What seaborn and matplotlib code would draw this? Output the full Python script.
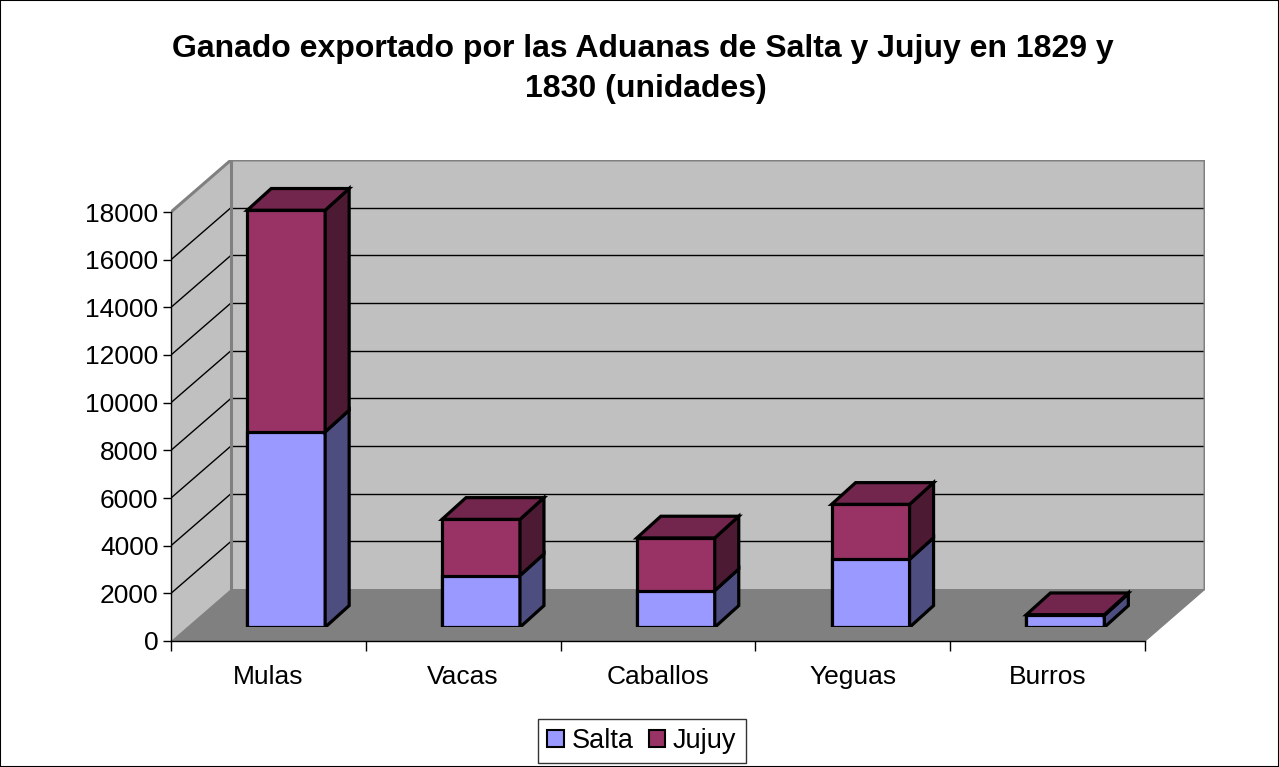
import numpy as np
import pandas as pd
import matplotlib
matplotlib.use("Agg")
import matplotlib.pyplot as plt
from matplotlib.patches import Polygon, Patch, Rectangle
import seaborn as sns

# ---------------- data ----------------
categorias = ["Mulas", "Vacas", "Caballos", "Yeguas", "Burros"]
salta = [8200, 2170, 1540, 2850, 500]
jujuy = [9300, 2360, 2210, 2310, 30]
series = ["Salta", "Jujuy"]
yticks = [0, 2000, 4000, 6000, 8000, 10000, 12000, 14000, 16000, 18000]
titulo = ["Ganado exportado por las Aduanas de Salta y Jujuy en 1829 y",
          "1830 (unidades)"]

# ---------------- style ----------------
sns.set_theme(style="white")
plt.rcParams['font.family'] = ['Liberation Sans', 'DejaVu Sans']

c_salta = '#9999FF'
c_jujuy = '#993366'
c_salta_side = '#4D4D80'
c_jujuy_side = '#4D1A33'
c_jujuy_top = '#73264D'
c_salta_top = '#7373BF'
wall_c = '#C0C0C0'
floor_c = '#808080'

W, H = 1279, 767
fig = plt.figure(figsize=(W / 100, H / 100), dpi=100)
fig.patch.set_facecolor('white')

# geometry (pixels)
x0, y0 = 171, 641
cat_px = 194.8
ymax = yticks[-1]
val_px = 429 / ymax
back_dx, back_dy = 60, 52
bar_off_x, bar_off_y = 17.8, 13.7
bar_dx_px, bar_dy_px = 24, 21.7

n = len(categorias)
xr = n - 0.5
dxw = back_dx / cat_px
dyw = back_dy / val_px
xlim = (-0.5, xr + dxw)
ylim = (0, ymax + dyw)
aw = (xlim[1] - xlim[0]) * cat_px
ah = (ylim[1] - ylim[0]) * val_px

ax = fig.add_axes([x0 / W, (H - y0) / H, aw / W, ah / H])
ax.set_facecolor('none')
ax.set_xlim(xlim)
ax.set_ylim(ylim)

# walls & floor
xl = -0.5
ax.add_patch(Polygon([(xl, 0), (xr, 0), (xr + dxw, dyw), (xl + dxw, dyw)],
                     closed=True, fc=floor_c, ec=floor_c, lw=1, zorder=1))
ax.add_patch(Polygon([(xl, 0), (xl, ymax), (xl + dxw, ymax + dyw), (xl + dxw, dyw)],
                     closed=True, fc=wall_c, ec='none', zorder=1))
ax.add_patch(Polygon([(xl + dxw, dyw), (xr + dxw, dyw), (xr + dxw, ymax + dyw), (xl + dxw, ymax + dyw)],
                     closed=True, fc=wall_c, ec='none', zorder=1))
for v in yticks[1:-1]:
    ax.plot([xl + dxw, xr + dxw], [v + dyw, v + dyw], color='black', lw=1, zorder=2)
    ax.plot([xl, xl + dxw], [v, v + dyw], color='black', lw=1, zorder=2)
# gray wall edges
ax.plot([xl, xl + dxw, xr + dxw, xr + dxw], [ymax, ymax + dyw, ymax + dyw, dyw],
        color=floor_c, lw=2.2, zorder=3, solid_joinstyle='miter')
ax.plot([xl + dxw, xl + dxw], [dyw, ymax + dyw], color=floor_c, lw=2.2, zorder=3)

# spines & ticks
for s in ['top', 'right']:
    ax.spines[s].set_visible(False)
ax.spines['left'].set_bounds(0, ymax)
ax.spines['bottom'].set_bounds(xl, xr)
for s in ['left', 'bottom']:
    ax.spines[s].set_color('black')
    ax.spines[s].set_linewidth(1)
    ax.spines[s].set_zorder(4)
ax.set_yticks(yticks)
ax.set_yticklabels([str(v) for v in yticks])
ax.set_xticks(range(n))
ax.set_xticklabels(categorias)
ax.set_xticks(np.arange(-0.5, n, 1.0), minor=True)
ax.tick_params(axis='y', which='major', left=True, length=6, width=1, color='black',
               direction='out', labelsize=19, pad=3, labelcolor='black')
ax.tick_params(axis='x', which='major', bottom=True, length=0, labelsize=19, pad=17,
               labelcolor='black')
ax.tick_params(axis='x', which='minor', bottom=True, length=7, width=1, color='black',
               direction='out')
ax.grid(False)

# ---------------- bars ----------------
ax_bar = fig.add_axes([(x0 + bar_off_x) / W, (H - y0 + bar_off_y) / H, aw / W, ah / H])
df = pd.DataFrame({'categoria': categorias, 'Salta': salta, 'Jujuy': jujuy})
df['total'] = df['Salta'] + df['Jujuy']
bw = 0.4
lw_bar = 2.3
sns.barplot(data=df, x='categoria', y='total', color=c_jujuy, saturation=1, width=bw,
            errorbar=None, edgecolor='black', linewidth=lw_bar, ax=ax_bar)
sns.barplot(data=df, x='categoria', y='Salta', color=c_salta, saturation=1, width=bw,
            errorbar=None, edgecolor='black', linewidth=lw_bar, ax=ax_bar)
ax_bar.set_xlim(xlim)
ax_bar.set_ylim(ylim)
ax_bar.set_axis_off()

bdx = bar_dx_px / cat_px
bdy = bar_dy_px / val_px
for i, (s, j) in enumerate(zip(salta, jujuy)):
    t = s + j
    r = i + bw / 2
    lft = i - bw / 2
    ax_bar.add_patch(Polygon([(r, 0), (r + bdx, bdy), (r + bdx, s + bdy), (r, s)], closed=True,
                             fc=c_salta_side, ec='black', lw=lw_bar, joinstyle='miter', zorder=5))
    ax_bar.add_patch(Polygon([(r, s), (r + bdx, s + bdy), (r + bdx, t + bdy), (r, t)], closed=True,
                             fc=c_jujuy_side, ec='black', lw=lw_bar, joinstyle='miter', zorder=5))
    ax_bar.add_patch(Polygon([(lft, t), (r, t), (r + bdx, t + bdy), (lft + bdx, t + bdy)], closed=True,
                             fc=c_jujuy_top if j > 0 else c_salta_top, ec='black', lw=lw_bar,
                             joinstyle='miter', zorder=5))

# ---------------- title, legend, border ----------------
fig.text(643 / W, 1 - 56.7 / H, titulo[0], ha='center', va='baseline', fontsize=23,
         fontweight='bold', color='black')
fig.text(646 / W, 1 - 96.7 / H, titulo[1], ha='center', va='baseline', fontsize=23,
         fontweight='bold', color='black')

handles = [Patch(fc=c_salta, ec='black', lw=1.5, label=series[0]),
           Patch(fc=c_jujuy, ec='black', lw=1.5, label=series[1])]
leg = fig.legend(handles=handles, loc='center', bbox_to_anchor=(642 / W, 1 - 741 / H), ncol=2,
                 frameon=True, fancybox=False, fontsize=19.5, handlelength=0.6, handleheight=0.6,
                 handletextpad=0.3, columnspacing=0.55, borderpad=0.35, borderaxespad=0)
leg.get_frame().set_edgecolor('black')
leg.get_frame().set_linewidth(1)
for txt in leg.get_texts():
    txt.set_color('black')

fig.add_artist(Rectangle((0, 0), 1, 1, transform=fig.transFigure, fill=False,
                         ec='black', lw=1.5))

fig.savefig('out.png', dpi=100)
